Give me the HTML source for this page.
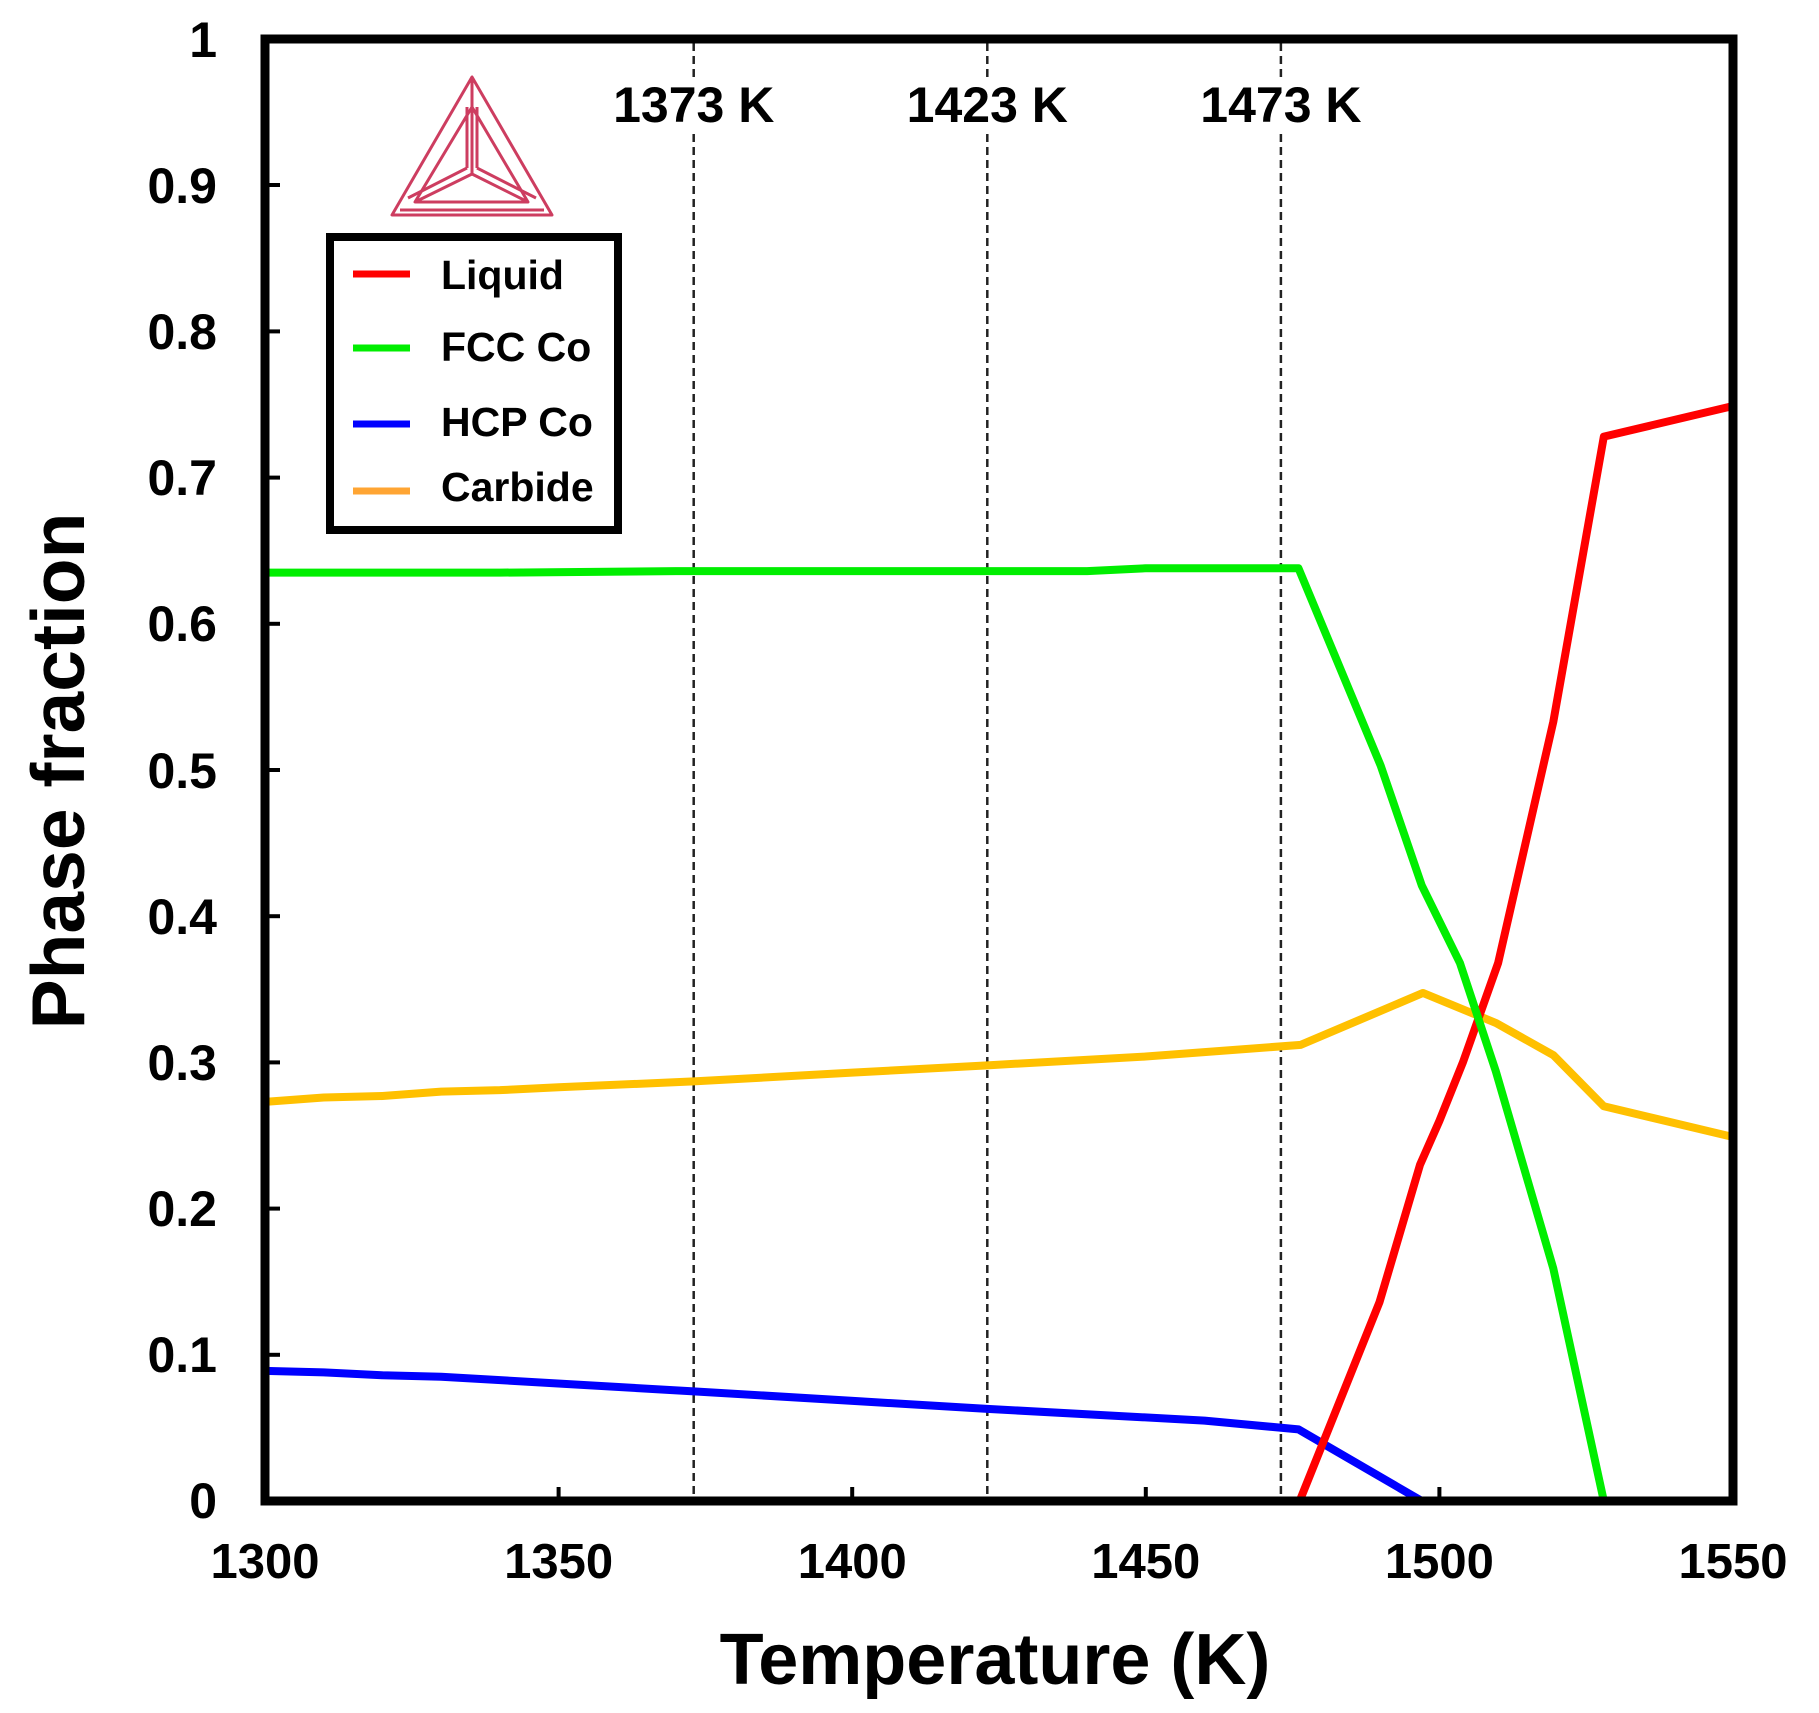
<!DOCTYPE html>
<html><head><meta charset="utf-8">
<style>
html,body{margin:0;padding:0;background:#fff;}
svg{display:block;}
text{font-family:"Liberation Sans",Arial,sans-serif;font-weight:bold;fill:#000;}
</style></head>
<body>
<svg width="1819" height="1713" viewBox="0 0 1819 1713" xmlns="http://www.w3.org/2000/svg">
<rect width="1819" height="1713" fill="#fff"/>

<!-- dashed lines -->
<g stroke="#222" stroke-width="2.5" stroke-dasharray="8,5">
<line x1="693.7" y1="43" x2="693.7" y2="1497"/>
<line x1="987.3" y1="43" x2="987.3" y2="1497"/>
<line x1="1280.9" y1="43" x2="1280.9" y2="1497"/>
</g>
<g fill="#fff">
<rect x="612" y="80" width="164" height="50"/>
<rect x="906" y="80" width="164" height="50"/>
<rect x="1199" y="80" width="164" height="50"/>
</g>
<g font-size="50" text-anchor="middle">
<text x="693.7" y="122">1373 K</text>
<text x="987.3" y="122">1423 K</text>
<text x="1280.9" y="122">1473 K</text>
</g>

<!-- series -->
<g transform="translate(265,1501) scale(5.872,-1462) translate(-1300,0)" fill="none" stroke-linejoin="round">
<polyline vector-effect="non-scaling-stroke" stroke="#ffc000" stroke-width="8" points="1300,0.273 1310,0.276 1320,0.277 1330,0.28 1340,0.281 1350,0.283 1373,0.287 1400,0.293 1423,0.298 1450,0.304 1476.4,0.312 1497.2,0.3475 1509.6,0.327 1519.4,0.305 1528,0.27 1550,0.249"/>
<polyline vector-effect="non-scaling-stroke" stroke="#0000ff" stroke-width="8" points="1300,0.089 1310,0.088 1320,0.086 1330,0.085 1373,0.075 1423,0.063 1460,0.055 1476,0.049 1497,0"/>
<polyline vector-effect="non-scaling-stroke" stroke="#ff0000" stroke-width="8" points="1476.2,0 1489.8,0.136 1496.7,0.23 1500,0.26 1504,0.3 1510,0.368 1519.4,0.533 1528,0.728 1550,0.749"/>
<polyline vector-effect="non-scaling-stroke" stroke="#00ee00" stroke-width="8" points="1300,0.635 1340,0.635 1370,0.636 1420,0.636 1440,0.636 1450,0.638 1476,0.638 1490,0.503 1497,0.421 1503.5,0.368 1509.6,0.294 1519.4,0.159 1528,0"/>
</g>

<!-- frame -->
<rect x="265" y="39" width="1468" height="1462" fill="none" stroke="#000" stroke-width="9"/>

<!-- ticks -->
<g stroke="#000" stroke-width="4">
<line x1="265" y1="185" x2="280" y2="185"/>
<line x1="265" y1="331.4" x2="280" y2="331.4"/>
<line x1="265" y1="477.6" x2="280" y2="477.6"/>
<line x1="265" y1="623.8" x2="280" y2="623.8"/>
<line x1="265" y1="770" x2="280" y2="770"/>
<line x1="265" y1="916.2" x2="280" y2="916.2"/>
<line x1="265" y1="1062.4" x2="280" y2="1062.4"/>
<line x1="265" y1="1208.6" x2="280" y2="1208.6"/>
<line x1="265" y1="1354.8" x2="280" y2="1354.8"/>
<line x1="558.6" y1="1501" x2="558.6" y2="1487"/>
<line x1="852.2" y1="1501" x2="852.2" y2="1487"/>
<line x1="1145.8" y1="1501" x2="1145.8" y2="1487"/>
<line x1="1439.4" y1="1501" x2="1439.4" y2="1487"/>
</g>

<!-- y tick labels -->
<g font-size="50" text-anchor="end">
<text x="217" y="57">1</text>
<text x="217" y="203">0.9</text>
<text x="217" y="349">0.8</text>
<text x="217" y="495">0.7</text>
<text x="217" y="641">0.6</text>
<text x="217" y="788">0.5</text>
<text x="217" y="934">0.4</text>
<text x="217" y="1080">0.3</text>
<text x="217" y="1226">0.2</text>
<text x="217" y="1372">0.1</text>
<text x="217" y="1518">0</text>
</g>
<!-- x tick labels -->
<g font-size="49" text-anchor="middle">
<text x="265" y="1578">1300</text>
<text x="558.6" y="1578">1350</text>
<text x="852.2" y="1578">1400</text>
<text x="1145.8" y="1578">1450</text>
<text x="1439.4" y="1578">1500</text>
<text x="1733" y="1578">1550</text>
</g>

<!-- axis titles -->
<text x="995" y="1684" font-size="72" text-anchor="middle">Temperature (K)</text>
<text transform="translate(84,771) rotate(-90)" font-size="75" text-anchor="middle">Phase fraction</text>

<!-- logo -->
<g fill="none" stroke="#c8294f" stroke-width="3" stroke-linejoin="round" opacity="0.9">
<polygon points="472,77 392,215 552,215"/>
<polyline points="472,107 415,202 528,202 472,107"/>
<line x1="400" y1="210" x2="544" y2="210"/>
<line x1="472" y1="77" x2="472" y2="174"/>
<line x1="467" y1="107" x2="467" y2="168"/>
<line x1="477" y1="107" x2="477" y2="168"/>
<line x1="472" y1="174" x2="415" y2="202"/>
<line x1="467" y1="168" x2="408" y2="198"/>
<line x1="472" y1="174" x2="528" y2="202"/>
<line x1="477" y1="168" x2="536" y2="198"/>
</g>

<!-- legend -->
<rect x="330" y="237" width="288" height="293" fill="#fff" stroke="#000" stroke-width="8"/>
<g stroke-width="7">
<line x1="353" y1="274" x2="410" y2="274" stroke="#ff0000"/>
<line x1="353" y1="348" x2="410" y2="348" stroke="#00ee00"/>
<line x1="353" y1="424" x2="410" y2="424" stroke="#0000ff"/>
<line x1="353" y1="491" x2="410" y2="491" stroke="#ffa533"/>
</g>
<g font-size="41">
<text x="441" y="289">Liquid</text>
<text x="441" y="361">FCC Co</text>
<text x="441" y="436">HCP Co</text>
<text x="441" y="501">Carbide</text>
</g>
</svg>
</body></html>
